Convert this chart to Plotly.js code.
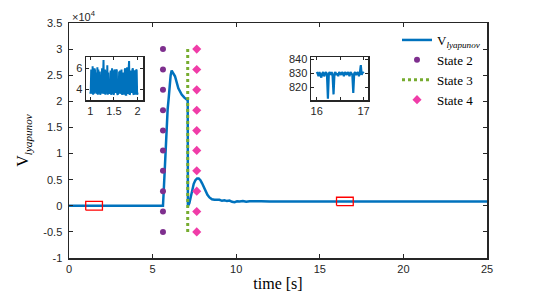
<!DOCTYPE html>
<html>
<head>
<meta charset="utf-8">
<script src="https://cdn.plot.ly/plotly-3.0.1.min.js"></script>
<style>html,body{margin:0;padding:0;background:#fff;}#chart{width:538px;height:296px;}</style>
</head>
<body>
<div id="chart"></div>
<script>
// ---- main series: V_lyapunov (raw units, axis shown in x10^4) ----
var timeS = [0, 1, 2, 3, 4, 5, 5.6, 5.62, 5.66, 5.72, 5.78, 5.84, 5.9, 5.96, 6.02, 6.08, 6.14, 6.2, 6.34, 6.54, 6.74, 6.9, 7.04, 7.1,
  7.11, 7.15, 7.2, 7.28, 7.36, 7.46, 7.56, 7.66, 7.76, 7.86, 7.96, 8.06, 8.16, 8.28, 8.4, 8.55, 8.7, 8.85, 9.0, 9.15, 9.3, 9.45, 9.6, 9.75, 9.9,
  10.05, 10.2, 10.4, 10.6, 10.8, 11, 11.5, 12, 13, 14, 15, 16, 17, 18, 19, 20, 21, 22, 23, 24, 25];
var vLyap = [5, 5, 5, 5, 5, 5, 5, 10, 2500, 7000, 11500, 15500, 18500, 20500, 23000, 25000, 25900, 25600, 24800, 22500, 21300, 20700, 20400, 20200,
  300, 200, 500, 1800, 3000, 4200, 4900, 5200, 5200, 4900, 4300, 3600, 2900, 2100, 1600, 1250, 1150, 1100, 1150, 950, 1050, 900, 1000, 750, 700,
  850, 800, 900, 760, 850, 820, 850, 830, 830, 830, 830, 830, 830, 830, 830, 830, 830, 830, 830, 830, 830];

// ---- state markers ----
var stateMarkV = [-5000, -1100, 2800, 6700, 10600, 14400, 18300, 22200, 26100, 30000];
var state2Time = 5.62;
var state3Time = 7.1;
var state3V = [-5000, 30000];
var state4Time = 7.64;

// ---- zoom windows (red boxes) ----
var win1T = [1, 2];
var win1V = [-850, 850];
var win2T = [16, 17];
var win2V = [30, 1630];

// ---- inset 1 (t in [1,2]) ----
var in1T = [1.00,1.01,1.02,1.03,1.04,1.05,1.06,1.07,1.08,1.09,1.10,1.11,1.12,1.13,1.14,1.15,1.16,1.17,1.18,1.19,1.20,
  1.21,1.22,1.23,1.24,1.25,1.26,1.27,1.28,1.29,1.30,1.31,1.32,1.33,1.34,1.35,1.36,1.37,1.38,1.39,1.40,
  1.41,1.42,1.43,1.44,1.45,1.46,1.47,1.48,1.49,1.50,1.51,1.52,1.53,1.54,1.55,1.56,1.57,1.58,1.59,1.60,
  1.61,1.62,1.63,1.64,1.65,1.66,1.67,1.68,1.69,1.70,1.71,1.72,1.73,1.74,1.75,1.76,1.77,1.78,1.79,1.80,
  1.81,1.82,1.83,1.84,1.85,1.86,1.87,1.88,1.89,1.90,1.91,1.92,1.93,1.94,1.95,1.96,1.97,1.98,1.99,2.00];
var in1V = [3.6,3.8,5.9,3.7,3.6,6.2,3.5,5.8,3.6,6.0,5.8,3.7,5.6,3.6,3.8,6.1,3.5,5.9,3.8,3.6,5.7,
  3.5,3.7,3.9,5.8,6.0,3.6,5.9,6.8,3.7,3.6,5.9,3.5,5.8,3.7,3.6,6.3,3.5,5.6,3.8,4.0,
  3.6,3.7,5.8,3.5,3.7,6.0,3.6,5.8,3.5,3.6,5.9,5.6,3.7,3.8,5.8,5.9,3.6,3.5,3.7,3.9,
  5.7,3.6,5.8,3.6,3.7,5.9,3.5,3.7,5.6,5.5,3.6,3.6,5.9,6.0,3.5,3.5,5.8,6.1,3.6,3.7,
  5.9,6.7,3.5,3.6,5.6,5.8,3.7,3.8,5.9,6.0,3.6,3.5,5.8,5.7,3.6,3.6,5.9,5.8,3.5,3.7];

// ---- inset 2 (t in [16,17]) ----
var in2T = [16.00,16.02,16.04,16.06,16.08,16.10,16.12,16.14,16.16,16.18,16.20,16.22,16.24,16.26,16.28,16.30,16.32,16.34,16.36,16.38,16.40,
  16.42,16.44,16.46,16.48,16.50,16.52,16.54,16.56,16.58,16.60,16.62,16.64,16.66,16.68,16.70,16.72,16.74,16.76,16.78,16.80,16.82,16.84,16.86,
  16.88,16.90,16.92,16.94,16.96,16.98,17.00];
var in2V = [831,830,828,831,829,827,830,831,828,830,831,829,812,830,831,829,831,828,815,830,831,829,830,828,831,830,
  829,831,830,828,831,830,829,831,830,828,831,830,829,816,830,831,829,830,831,828,830,836,829,831,830];

// ---- tick labels ----
var xTicks = [0, 5, 10, 15, 20, 25];
var yTickVals = [-10000, -5000, 0, 5000, 10000, 15000, 20000, 25000, 30000, 35000];
var yTickText = ['-1', '-0.5', '0', '0.5', '1', '1.5', '2', '2.5', '3', '3.5'];

var blue = '#0072BD', axisCol = '#262626';
function repeat(v) { return stateMarkV.map(function(){ return v; }); }
function boxX(t) { return [t[0], t[1], t[1], t[0], t[0]]; }
function boxY(v) { return [v[0], v[0], v[1], v[1], v[0]]; }

var traces = [
  {x: timeS, y: vLyap, type: 'scatter', mode: 'lines', name: 'V<sub><i>lyapunov</i></sub>', line: {color: blue, width: 2.5}},
  {x: repeat(state2Time), y: stateMarkV, type: 'scatter', mode: 'markers', name: 'State 2', marker: {color: '#7E2F8E', size: 6, symbol: 'circle'}},
  {x: [state3Time, state3Time], y: state3V, type: 'scatter', mode: 'lines', name: 'State 3', line: {color: '#77AC30', width: 3, dash: 'dot'}},
  {x: repeat(state4Time), y: stateMarkV, type: 'scatter', mode: 'markers', name: 'State 4', marker: {color: '#F03CA8', size: 7, symbol: 'diamond'}},
  {x: boxX(win1T), y: boxY(win1V), type: 'scatter', mode: 'lines', showlegend: false, hoverinfo: 'skip', line: {color: '#FF0000', width: 1.3}},
  {x: boxX(win2T), y: boxY(win2V), type: 'scatter', mode: 'lines', showlegend: false, hoverinfo: 'skip', line: {color: '#FF0000', width: 1.3}},
  {x: in1T, y: in1V, xaxis: 'x2', yaxis: 'y2', type: 'scatter', mode: 'lines', showlegend: false, line: {color: blue, width: 2}},
  {x: in2T, y: in2V, xaxis: 'x3', yaxis: 'y3', type: 'scatter', mode: 'lines', showlegend: false, line: {color: blue, width: 2.2}}
];

function ax(extra) {
  var base = {ticks: 'inside', ticklen: 4, tickwidth: 1, tickcolor: axisCol, showline: true, linecolor: axisCol, linewidth: 1.5,
    mirror: 'ticks', zeroline: false, showgrid: false, tickfont: {family: 'Liberation Sans, Arial, sans-serif', size: 11, color: axisCol},
    fixedrange: true};
  for (var k in extra) base[k] = extra[k];
  return base;
}

var W = 538, H = 296;
var layout = {
  width: W, height: H,
  margin: {l: 0, r: 0, t: 0, b: 0},
  paper_bgcolor: '#fff', plot_bgcolor: '#fff',
  showlegend: true,
  legend: {x: 397 / W, y: 1 - 25 / H, xanchor: 'left', yanchor: 'top', bgcolor: 'rgba(0,0,0,0)',
    font: {family: 'Liberation Serif, Times New Roman, serif', size: 13, color: '#000'}, tracegroupgap: 0, itemwidth: 30},
  xaxis: ax({domain: [69 / W, 487 / W], range: [0, 25], tickvals: xTicks, anchor: 'y',
    title: {text: 'time [s]', font: {family: 'Liberation Serif, Times New Roman, serif', size: 16, color: '#000'}, standoff: 4}}),
  yaxis: ax({domain: [1 - 258 / H, 1 - 23 / H], range: [-10000, 35000], tickvals: yTickVals, ticktext: yTickText, anchor: 'x',
    ticklabelstandoff: 3,
    title: {text: 'V<sub><i>lyapunov</i></sub>', font: {family: 'Liberation Serif, Times New Roman, serif', size: 16, color: '#000'}, standoff: 10}}),
  xaxis2: ax({domain: [86 / W, 143.3 / W], range: [0.91, 2.12], tickvals: [1, 1.5, 2], anchor: 'y2', ticklen: 3}),
  yaxis2: ax({domain: [1 - 100 / H, 1 - 57.3 / H], range: [3, 7.05], tickvals: [4, 6], anchor: 'x2', ticklen: 3}),
  xaxis3: ax({domain: [311 / W, 368.3 / W], range: [15.88, 17.1], tickvals: [16, 17], anchor: 'y3', ticklen: 3,
    minor: {tickvals: [16.5], ticks: 'inside', ticklen: 3, tickcolor: axisCol, showgrid: false}}),
  yaxis3: ax({domain: [1 - 100 / H, 1 - 57.3 / H], range: [811, 841.5], tickvals: [820, 830, 840], anchor: 'x3', ticklen: 3}),
  annotations: [
    {xref: 'paper', yref: 'paper', x: 70 / W, y: 1 - 16 / H, xanchor: 'left', yanchor: 'middle', showarrow: false,
     text: '\u00d710<sup>4</sup>', font: {family: 'Liberation Sans, Arial, sans-serif', size: 11, color: axisCol}}
  ]
};

Plotly.newPlot('chart', traces, layout, {displayModeBar: false, staticPlot: true});
</script>
</body>
</html>
